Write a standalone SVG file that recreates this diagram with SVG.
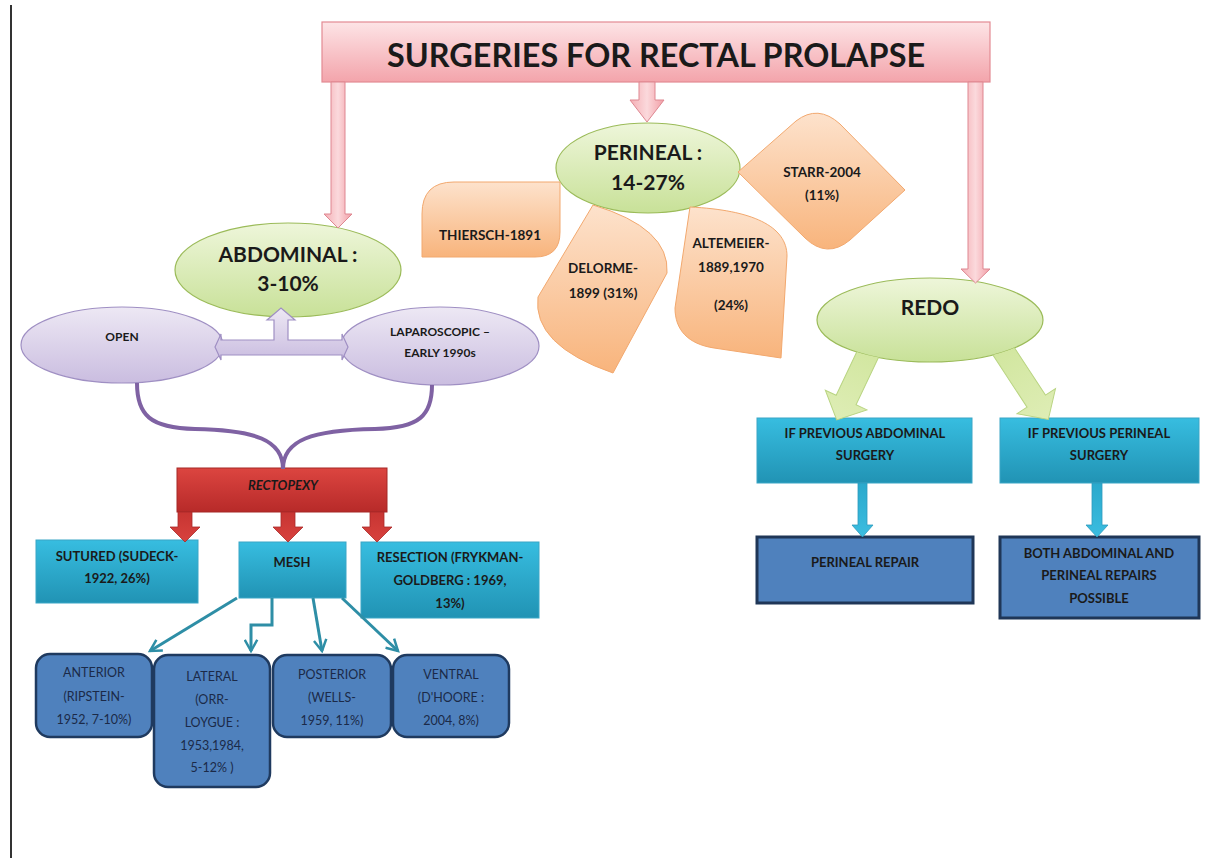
<svg xmlns="http://www.w3.org/2000/svg" width="1216" height="862" viewBox="0 0 1216 862">
<defs>
<style>
.t{font-family:Lato,"Liberation Sans",sans-serif;font-weight:bold;fill:#1a1a1a;text-anchor:middle}
.r{font-family:Lato,"Liberation Sans",sans-serif;font-weight:normal;fill:#1b2a48;text-anchor:middle;font-size:12.5px}
.s13{font-size:13px}
.s135{font-size:13.5px}
.s12{font-size:12px}
.big{font-size:21px}
.pinkA{fill:url(#gPinkA);stroke:#de8791;stroke-width:1}
.grnE{fill:url(#gGreen);stroke:#9bbb59;stroke-width:1.2}
.org{fill:url(#gOrange);stroke:#f2a86e;stroke-width:1}
.pur{fill:url(#gPurple);stroke:#9f8fc3;stroke-width:1.2}
.cyan{fill:url(#gCyan);stroke:#3aa6c6;stroke-width:1}
.blue{fill:#4f81bd;stroke:#1f3a5f;stroke-width:2.5}
.mesh{fill:none;stroke:#2e8ea6;stroke-width:3;marker-end:url(#vHead)}
.redA{fill:url(#gRedA);stroke:#a92a28;stroke-width:0.8}
.gA{fill:url(#gGreenA);stroke:#b9d482;stroke-width:1}
.cA{fill:url(#gCyanA);stroke:#2d9bbd;stroke-width:0.8}
</style>
<linearGradient id="gPink" x1="0" y1="0" x2="0" y2="1"><stop offset="0" stop-color="#fde4e6"/><stop offset="1" stop-color="#f3a4ab"/></linearGradient>
<linearGradient id="gPinkA" x1="0" y1="0" x2="1" y2="0"><stop offset="0" stop-color="#f4aeb4"/><stop offset="0.5" stop-color="#fbd9dc"/><stop offset="1" stop-color="#f29ea6"/></linearGradient>
<linearGradient id="gGreen" x1="0" y1="0" x2="0" y2="1"><stop offset="0" stop-color="#eef6da"/><stop offset="1" stop-color="#c8e198"/></linearGradient>
<linearGradient id="gGreenA" x1="0" y1="0" x2="0" y2="1"><stop offset="0" stop-color="#cfe59b"/><stop offset="1" stop-color="#deedb5"/></linearGradient>
<linearGradient id="gOrange" x1="0" y1="0" x2="0" y2="1"><stop offset="0" stop-color="#fde2cc"/><stop offset="1" stop-color="#f8b47c"/></linearGradient>
<linearGradient id="gPurple" x1="0" y1="0" x2="0" y2="1"><stop offset="0" stop-color="#ede8f4"/><stop offset="1" stop-color="#cabde0"/></linearGradient>
<linearGradient id="gRed" x1="0" y1="0" x2="0" y2="1"><stop offset="0" stop-color="#dc4540"/><stop offset="1" stop-color="#b72a29"/></linearGradient>
<linearGradient id="gRedA" x1="0" y1="0" x2="0" y2="1"><stop offset="0" stop-color="#c73532"/><stop offset="1" stop-color="#d8423e"/></linearGradient>
<linearGradient id="gCyan" x1="0" y1="0" x2="0" y2="1"><stop offset="0" stop-color="#37bde0"/><stop offset="1" stop-color="#2193b4"/></linearGradient>
<linearGradient id="gCyanA" x1="0" y1="0" x2="0" y2="1"><stop offset="0" stop-color="#2aa9cc"/><stop offset="1" stop-color="#3bbde0"/></linearGradient>
<marker id="vHead" viewBox="0 0 12 12" refX="10" refY="6" markerWidth="5" markerHeight="5" orient="auto" markerUnits="strokeWidth">
<path d="M1,1 L10,6 L1,11" fill="none" stroke="#2e8ea6" stroke-width="2"/>
</marker>
<clipPath id="noRedo"><path clip-rule="evenodd" d="M0,0 H1216 V862 H0 Z M817,320 a113,42 0 1,0 226,0 a113,42 0 1,0 -226,0 Z"/></clipPath>
</defs>
<rect x="0" y="0" width="1216" height="862" fill="#ffffff"/>
<line x1="11" y1="5" x2="11" y2="858" stroke="#333333" stroke-width="2"/>

<g id="title">
<rect x="322" y="22" width="668" height="60" fill="url(#gPink)" stroke="#e38a93" stroke-width="1.2"/>
<text class="t" x="656" y="67" font-size="33" textLength="538" lengthAdjust="spacingAndGlyphs">SURGERIES FOR RECTAL PROLAPSE</text>
</g>

<g id="abdominal">
<ellipse class="grnE" cx="288" cy="270" rx="113" ry="47"/>
<text class="t big" x="288" y="262">ABDOMINAL :</text>
<text class="t big" x="288" y="291">3-10%</text>
</g>
<g id="perineal">
<ellipse class="grnE" cx="648" cy="168" rx="92" ry="45"/>
<text class="t big" x="648" y="160">PERINEAL :</text>
<text class="t big" x="648" y="190">14-27%</text>
</g>
<g id="redo">
<ellipse class="grnE" cx="930" cy="320" rx="113" ry="42"/>
<text class="t big" x="930" y="315">REDO</text>
</g>

<g id="thiersch">
<path class="org" d="M454,182 L560,182 L560,232 Q560,257 535,257 L422,257 L422,214 Q422,182 454,182 Z"/>
<text class="t s135" x="490" y="240">THIERSCH-1891</text>
</g>
<g id="delorme">
<path class="org" d="M593,205 L538,297 Q532,345 613,373 L667,273 Q670,228 593,205 Z"/>
<text class="t s135" x="603" y="273">DELORME-</text>
<text class="t s135" x="603" y="298">1899 (31%)</text>
</g>
<g id="altemeier">
<path class="org" d="M690,207 C752,210 787,226 787,256 L781,358 L714,348 C688,344 675,330 675,308 Z"/>
<text class="t s135" x="731" y="248">ALTEMEIER-</text>
<text class="t s135" x="731" y="272">1889,1970</text>
<text class="t s135" x="731" y="310">(24%)</text>
</g>
<g id="starr">
<path class="org" d="M738,172 L796,121 Q818,104 840,124 L905,190 L850,240 Q827,259 805,238 Z"/>
<text class="t s135" x="822" y="177">STARR-2004</text>
<text class="t s135" x="822" y="200">(11%)</text>
</g>

<g id="open">
<ellipse class="pur" cx="122" cy="345" rx="101" ry="38"/>
<text class="t s12" x="122" y="341">OPEN</text>
</g>
<g id="laparoscopic">
<ellipse class="pur" cx="440" cy="346" rx="99" ry="39"/>
<text class="t s12" x="440" y="336">LAPAROSCOPIC –</text>
<text class="t s12" x="440" y="357">EARLY 1990s</text>
</g>

<g id="rectopexy">
<rect x="177" y="468" width="210" height="44" fill="url(#gRed)" stroke="#a52826" stroke-width="1"/>
<text class="t s13" x="283" y="490" font-style="italic">RECTOPEXY</text>
</g>

<g id="sutured">
<rect class="cyan" x="36" y="540" width="162" height="63"/>
<text class="t s13" x="117" y="561">SUTURED (SUDECK-</text>
<text class="t s13" x="117" y="583">1922, 26%)</text>
</g>
<g id="mesh">
<rect class="cyan" x="239" y="542" width="107" height="56"/>
<text class="t s13" x="292" y="567">MESH</text>
</g>
<g id="resection">
<rect class="cyan" x="361" y="542" width="178" height="76"/>
<text class="t s13" x="450" y="562">RESECTION (FRYKMAN-</text>
<text class="t s13" x="450" y="585">GOLDBERG : 1969,</text>
<text class="t s13" x="450" y="608">13%)</text>
</g>

<g id="anterior">
<rect class="blue" x="36" y="654" width="116" height="83" rx="14"/>
<text class="r" x="94" y="677">ANTERIOR</text>
<text class="r" x="94" y="701">(RIPSTEIN-</text>
<text class="r" x="94" y="724">1952, 7-10%)</text>
</g>
<g id="lateral">
<rect class="blue" x="154" y="655" width="116" height="132" rx="14"/>
<text class="r" x="212" y="681">LATERAL</text>
<text class="r" x="212" y="704">(ORR-</text>
<text class="r" x="212" y="727">LOYGUE :</text>
<text class="r" x="212" y="750">1953,1984,</text>
<text class="r" x="212" y="772">5-12% )</text>
</g>
<g id="posterior">
<rect class="blue" x="273" y="655" width="118" height="82" rx="14"/>
<text class="r" x="332" y="679">POSTERIOR</text>
<text class="r" x="332" y="702">(WELLS-</text>
<text class="r" x="332" y="725">1959, 11%)</text>
</g>
<g id="ventral">
<rect class="blue" x="393" y="655" width="116" height="82" rx="14"/>
<text class="r" x="451" y="679">VENTRAL</text>
<text class="r" x="451" y="702">(D'HOORE :</text>
<text class="r" x="451" y="725">2004, 8%)</text>
</g>

<g id="prev-abdominal">
<rect class="cyan" x="757" y="418" width="215" height="65"/>
<text class="t s13" x="865" y="438">IF PREVIOUS ABDOMINAL</text>
<text class="t s13" x="865" y="460">SURGERY</text>
</g>
<g id="prev-perineal">
<rect class="cyan" x="1000" y="418" width="199" height="65"/>
<text class="t s13" x="1099" y="438">IF PREVIOUS PERINEAL</text>
<text class="t s13" x="1099" y="460">SURGERY</text>
</g>
<g id="perineal-repair">
<rect x="757" y="537" width="216" height="66" fill="#4f81bd" stroke="#1f3657" stroke-width="3"/>
<text class="t s13" x="865" y="567">PERINEAL REPAIR</text>
</g>
<g id="both-repairs">
<rect x="1000" y="537" width="199" height="81" fill="#4f81bd" stroke="#1f3657" stroke-width="3"/>
<text class="t s13" x="1099" y="558">BOTH ABDOMINAL AND</text>
<text class="t s13" x="1099" y="580">PERINEAL REPAIRS</text>
<text class="t s13" x="1099" y="603">POSSIBLE</text>
</g>

<g id="connectors">
<polygon class="pinkA" points="331,82 345,82 345,214 352,214 338,228 324,214 331,214"/>
<polygon class="pinkA" points="639,82 655,82 655,100 664,100 647,122 630,100 639,100"/>
<polygon class="pinkA" points="968,82 983,82 983,269 990,269 975.5,283 961,269 968,269"/>
<path class="pur" d="M215,347 L221,334 L221,340 L274,340 L274,320 L267,320 L281,308 L295,320 L288,320 L288,340 L342,340 L342,334 L348,347 L342,360 L342,355 L221,355 L221,360 Z"/>
<path d="M137,383 C137,415 150,428 195,429 C255,430 283,440 283,469" fill="none" stroke="#7f62a3" stroke-width="4"/>
<path d="M432,385 C432,415 420,428 375,429 C312,430 283,440 283,469" fill="none" stroke="#7f62a3" stroke-width="4"/>
<polygon class="redA" points="178,512 192,512 192,527 200,527 185,542 170,527 178,527"/>
<polygon class="redA" points="281,512 295,512 295,527 303,527 288,542 273,527 281,527"/>
<polygon class="redA" points="370,512 384,512 384,527 392,527 377,542 362,527 370,527"/>
<path class="mesh" d="M237,598 L150,651"/>
<path class="mesh" d="M272,598 L272,625 L251,625 L251,651"/>
<path class="mesh" d="M313,598 L322,651"/>
<path class="mesh" d="M342,598 L398,651"/>
<g clip-path="url(#noRedo)">
<polygon class="gA" transform="translate(877,335) rotate(25.4)" points="-11,0 11,0 11,72 23,72 0,94 -23,72 -11,72"/>
<polygon class="gA" transform="translate(993,335) rotate(-33.2)" points="-11,0 11,0 11,79 23,79 0,101 -23,79 -11,79"/>
</g>
<polygon class="cA" points="858,483 867,483 867,525 873,525 862.5,537 852,525 858,525"/>
<polygon class="cA" points="1092,483 1102,483 1102,525 1108,525 1097,537 1086,525 1092,525"/>
</g>
</svg>
